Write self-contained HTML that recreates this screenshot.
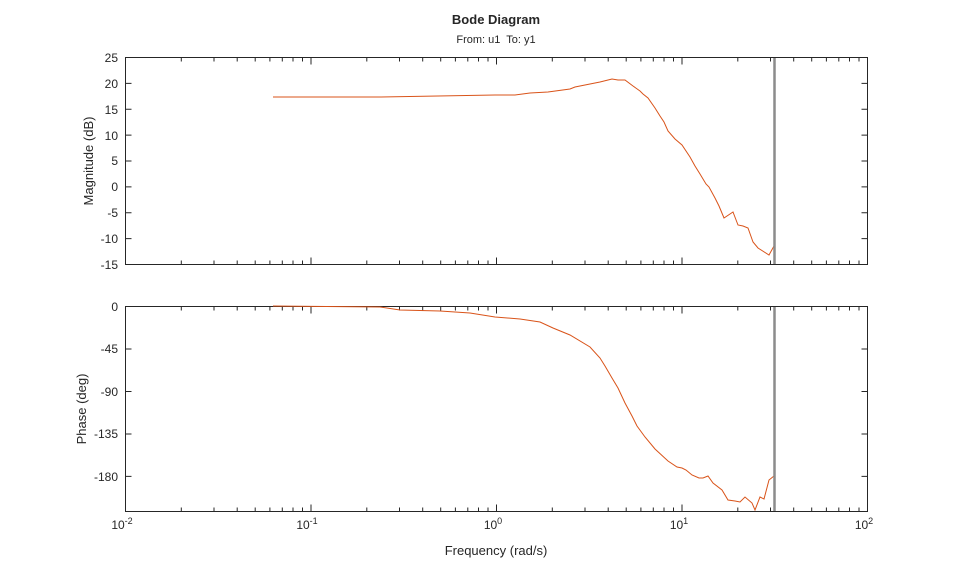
<!DOCTYPE html>
<html><head><meta charset="utf-8"><style>
body{margin:0;background:#fff;}
svg text{font-family:"Liberation Sans",sans-serif;fill:#262626;}
</style></head><body>
<svg width="959" height="577" xmlns="http://www.w3.org/2000/svg">
<defs>
<path id="xt" d="M181.3 0v4M214 0v4M237.2 0v4M255.2 0v4M269.9 0v4M282.3 0v4M293 0v4M302.5 0v4M366.8 0v4M399.5 0v4M422.7 0v4M440.7 0v4M455.4 0v4M467.8 0v4M478.5 0v4M488 0v4M552.3 0v4M585 0v4M608.2 0v4M626.2 0v4M640.9 0v4M653.3 0v4M664 0v4M673.5 0v4M737.8 0v4M770.5 0v4M793.7 0v4M811.7 0v4M826.4 0v4M838.8 0v4M849.5 0v4M859 0v4M311 0v7M496.5 0v7M682 0v7" stroke="#262626" stroke-width="1" fill="none"/>
</defs>
<rect width="959" height="577" fill="#fff"/>
<text x="496" y="24" font-size="13" font-weight="bold" text-anchor="middle">Bode Diagram</text>
<text x="496" y="43" font-size="11" text-anchor="middle" xml:space="preserve">From: u1  To: y1</text>
<g stroke="#262626" stroke-width="1" fill="none">
<rect x="125.5" y="57.5" width="742" height="207"/>
<rect x="125.5" y="306.5" width="742" height="205"/>
<path d="M125.5 83.4h6M125.5 109.3h6M125.5 135.1h6M125.5 161h6M125.5 186.9h6M125.5 212.8h6M125.5 238.6h6M867.5 83.4h-6M867.5 109.3h-6M867.5 135.1h-6M867.5 161h-6M867.5 186.9h-6M867.5 212.8h-6M867.5 238.6h-6M125.5 349h6M125.5 391.5h6M125.5 434h6M125.5 476.4h6M867.5 349h-6M867.5 391.5h-6M867.5 434h-6M867.5 476.4h-6"/>
</g>
<use href="#xt" transform="translate(0,57.5)"/>
<use href="#xt" transform="translate(0,264.5) scale(1,-1)"/>
<use href="#xt" transform="translate(0,306.5)"/>
<use href="#xt" transform="translate(0,511.5) scale(1,-1)"/>
<g font-size="12" text-anchor="end">
<text x="118" y="62">25</text><text x="118" y="88">20</text><text x="118" y="114">15</text>
<text x="118" y="140">10</text><text x="118" y="165">5</text><text x="118" y="191">0</text>
<text x="118" y="217">-5</text><text x="118" y="243">-10</text><text x="118" y="269">-15</text>
<text x="118" y="311">0</text><text x="118" y="353">-45</text><text x="118" y="396">-90</text>
<text x="118" y="438">-135</text><text x="118" y="481">-180</text>
</g>
<g font-size="12" text-anchor="middle">
<text x="122" y="529">10<tspan dy="-5" font-size="9">-2</tspan></text>
<text x="307" y="529">10<tspan dy="-5" font-size="9">-1</tspan></text>
<text x="493" y="529">10<tspan dy="-5" font-size="9">0</tspan></text>
<text x="679" y="529">10<tspan dy="-5" font-size="9">1</tspan></text>
<text x="864" y="529">10<tspan dy="-5" font-size="9">2</tspan></text>
</g>
<text x="496" y="555" font-size="13" text-anchor="middle">Frequency (rad/s)</text>
<text transform="translate(93,161) rotate(-90)" font-size="13" text-anchor="middle">Magnitude (dB)</text>
<text transform="translate(86,409) rotate(-90)" font-size="13" text-anchor="middle">Phase (deg)</text>
<g stroke="#d95319" stroke-width="1" fill="none">
<polyline points="273,97 380,97 495,95 515,95 530,93 548,92 570,89 575,87 600,82 612,79 618,80 625,80 633,86 640,91 643,94 648,98 655,108 660,116 664,122 668,131 675,139 682,145 690,157 695,166 700,174 706,184 709,187 715,198 719,206 724,218 733,212 738,225 743,226 748,228 753,242 758,248 769,255 774,246"/>
<polyline points="273,306 380,307 400,310 440,311 470,313 495,317 520,319 540,322 553,328 570,335 590,347 600,358 605,366 612,378 618,388 625,403 632,416 637,426 645,437 655,449 668,461 677,467 682,468 686,470 692,475 699,478 703,478 708,476 713,483 722,490 728,500 735,501 740,502 745,497 752,503 755,510 760,497 764,499 769,480 774,476"/>
</g>
<g stroke="#8c8c8c" stroke-width="2.5">
<line x1="774.5" y1="58" x2="774.5" y2="264"/>
<line x1="774.5" y1="307" x2="774.5" y2="511"/>
</g>
</svg>
</body></html>
